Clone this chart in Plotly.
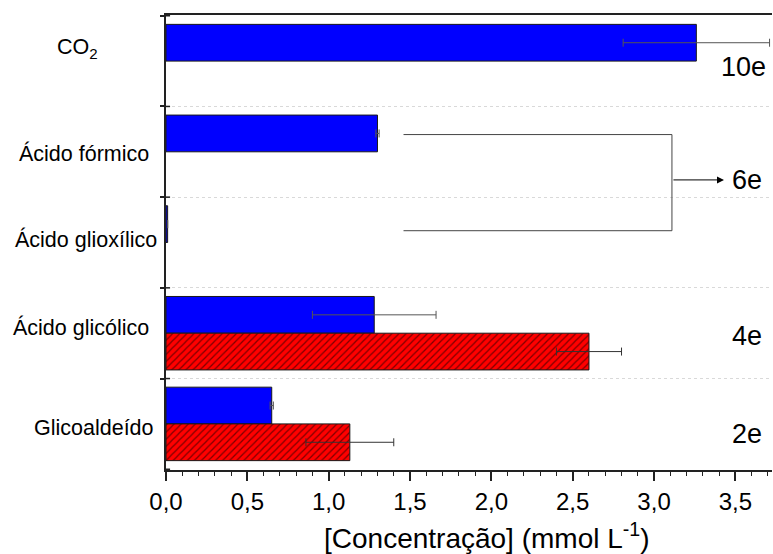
import plotly.graph_objects as go

categories = ["CO<sub>2</sub>", "Ácido fórmico", "Ácido glioxílico", "Ácido glicólico", "Glicoaldeído"]
blue_values = [3.26, 1.30, 0.01, 1.28, 0.65]
blue_errors = [0.45, 0.01, 0.0, 0.38, 0.01]
red_values = [None, None, None, 2.60, 1.13]
red_errors = [0.0, 0.0, 0.0, 0.20, 0.27]
electron_labels = ["10e", "6e", "4e", "2e"]

FONT = "Arial, Liberation Sans, sans-serif"
L, R, T, B = 166, 1, 15, 84
W, H = 773, 554
PW = W - L - R
PH = H - T - B

fig = go.Figure()
fig.add_trace(go.Bar(
    y=categories, x=blue_values, orientation="h",
    marker=dict(color="#0000FF", line=dict(color="#1a1a1a", width=1)),
    error_x=dict(type="data", array=blue_errors, color="#555555", thickness=1, width=4),
    showlegend=False,
))
fig.add_trace(go.Bar(
    y=categories, x=red_values, orientation="h",
    marker=dict(color="#FF0000", line=dict(color="#1a1a1a", width=1),
                pattern=dict(shape="/", fgcolor="#000000", size=5, solidity=0.25, fillmode="overlay")),
    error_x=dict(type="data", array=red_errors, color="#333333", thickness=1, width=4),
    showlegend=False,
))

fig.update_layout(
    width=W, height=H,
    margin=dict(l=L, r=R, t=T, b=B),
    paper_bgcolor="white", plot_bgcolor="white",
    barmode="group", bargap=0.19, bargroupgap=0,
    font=dict(family=FONT, color="black", size=20),
    separators=",.",
)

fig.update_xaxes(
    range=[0, 3.725], dtick=0.5, tickformat=".1f",
    showline=True, linecolor="#222222", linewidth=2, mirror=True,
    ticks="outside", ticklen=9, tickwidth=1.5, tickcolor="#222222",
    minor=dict(dtick=0.1, ticks="outside", ticklen=4, tickcolor="#222222", tickwidth=1),
    showgrid=False, zeroline=False,
    tickfont=dict(size=24, family=FONT),
)

fig.update_yaxes(
    type="category", autorange="reversed", tickson="boundaries",
    showline=True, linecolor="#222222", linewidth=1.5,
    ticks="outside", ticklen=4, tickwidth=1.5, tickcolor="#222222",
    showticklabels=False,
    showgrid=True, gridcolor="#d9d9d9", griddash="dot", gridwidth=1,
    zeroline=False,
)

# x-axis title (offset to the right as in the original)
fig.add_annotation(x=(487 - L) / PW, y=(T + PH - 536) / PH, xref="paper", yref="paper",
                   text="[Concentração] (mmol L<sup>-1</sup>)", showarrow=False,
                   xanchor="center", yanchor="middle", font=dict(size=28, family=FONT, color="black"))

# category labels, centered like the original
label_centers_px = [77, 84, 86, 81, 94]
label_yshift_px = [13, -2, 3, 6, -4]
for cat, cx, dy in zip(categories, label_centers_px, label_yshift_px):
    fig.add_annotation(x=(cx - L) / PW, xref="paper", y=cat, yref="y", text=cat,
                       showarrow=False, xanchor="center", yanchor="middle", yshift=dy,
                       font=dict(size=21.5, family=FONT, color="black"))

# inner half of boundary ticks on y axis
for b in [-0.5, 0.5, 1.5, 2.5, 3.5, 4.5]:
    fig.add_shape(type="line", xref="x", yref="y", x0=0, x1=0.025, y0=b, y1=b,
                  line=dict(color="#222222", width=1.5))

# bracket for 6e
br_color = "#444444"
fig.add_shape(type="line", xref="x", yref="y", x0=1.46, x1=3.11, y0=0.81, y1=0.81, line=dict(color=br_color, width=1))
fig.add_shape(type="line", xref="x", yref="y", x0=1.46, x1=3.11, y0=1.87, y1=1.87, line=dict(color=br_color, width=1))
fig.add_shape(type="line", xref="x", yref="y", x0=3.11, x1=3.11, y0=0.81, y1=1.87, line=dict(color=br_color, width=1))
fig.add_annotation(x=3.43, y=1.31, xref="x", yref="y", ax=3.11, ay=1.31, axref="x", ayref="y",
                   text="", showarrow=True, arrowhead=2, arrowsize=1.4, arrowwidth=1, arrowcolor="black")

label_pos = [(3.55, 0.06), (3.57, 1.31), (3.57, 3.03), (3.57, 4.11)]
for txt, (lx, ly) in zip(electron_labels, label_pos):
    fig.add_annotation(x=lx, y=ly, xref="x", yref="y", text=txt, showarrow=False,
                       xanchor="center", yanchor="middle",
                       font=dict(size=27, family=FONT, color="black"))

fig.write_html("out.html")
